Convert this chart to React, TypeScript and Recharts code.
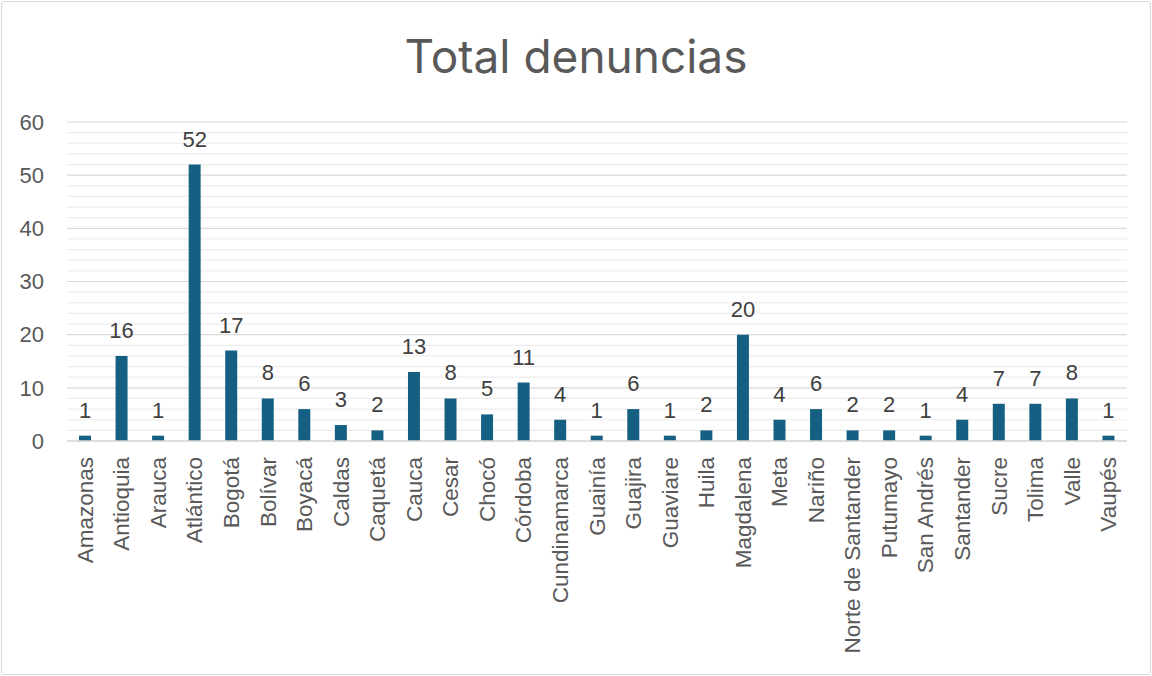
import React from "react";
import { BarChart, Bar, XAxis, YAxis, CartesianGrid, LabelList } from "recharts";

const categories = [
  "Amazonas", "Antioquia", "Arauca", "Atlántico", "Bogotá", "Bolívar", "Boyacá", "Caldas",
  "Caquetá", "Cauca", "Cesar", "Chocó", "Córdoba", "Cundinamarca", "Guainía", "Guajira",
  "Guaviare", "Huila", "Magdalena", "Meta", "Nariño", "Norte de Santander", "Putumayo",
  "San Andrés", "Santander", "Sucre", "Tolima", "Valle", "Vaupés",
];
const values = [1, 16, 1, 52, 17, 8, 6, 3, 2, 13, 8, 5, 11, 4, 1, 6, 1, 2, 20, 4, 6, 2, 2, 1, 4, 7, 7, 8, 1];
const majorTicks = [0, 10, 20, 30, 40, 50, 60];
const minorTicks = [2, 4, 6, 8, 12, 14, 16, 18, 22, 24, 26, 28, 32, 34, 36, 38, 42, 44, 46, 48, 52, 54, 56, 58];
const title = "Total denuncias";

const data = categories.map((name, i) => ({ name, value: values[i] }));

const FONT = "'Liberation Sans', Arial, sans-serif";

const CatTick = (props: any) => {
  const { x, y, payload } = props;
  return (
    <text
      x={x}
      y={y}
      transform={`rotate(-90, ${x}, ${y})`}
      textAnchor="end"
      dominantBaseline="central"
      fill="#595959"
      fontSize={22.5}
      fontFamily={FONT}
    >
      {payload.value}
    </text>
  );
};

export default function App() {
  return (
    <div style={{ position: "absolute", left: 0, top: 0, width: 1152, height: 676, background: "#fff" }}>
      <div
        style={{
          position: "absolute",
          left: 1,
          top: 1,
          width: 1148,
          height: 672,
          border: "1px solid #d9d9d9",
          borderRadius: 3,
        }}
      />
      <div
        style={{
          position: "absolute",
          left: 0,
          top: 27,
          width: 1152,
          textAlign: "center",
          fontFamily: "Inter, 'Open Sans', sans-serif",
          fontSize: 46,
          color: "#595959",
          lineHeight: "58px",
        }}
      >
        {title}
      </div>
      <div style={{ position: "absolute", left: 0, top: 0 }}>
        <BarChart
          width={1152}
          height={676}
          data={data}
          margin={{ top: 122, right: 25, bottom: 0, left: 0 }}
          barSize={12}
        >
          <CartesianGrid
            vertical={false}
            horizontalValues={minorTicks}
            stroke="#ececec"
            strokeWidth={1.2}
          />
          <CartesianGrid
            vertical={false}
            horizontalValues={majorTicks}
            stroke="#d9d9d9"
            strokeWidth={1.2}
          />
          <XAxis
            dataKey="name"
            interval={0}
            axisLine={{ stroke: "#d9d9d9", strokeWidth: 1.5 }}
            tickLine={false}
            tickSize={0}
            tickMargin={16}
            height={235}
            tick={<CatTick />}
          />
          <YAxis
            domain={[0, 60]}
            ticks={majorTicks}
            interval={0}
            width={67}
            axisLine={false}
            tickLine={false}
            tickSize={0}
            tickMargin={23}
            tick={{ fill: "#595959", fontSize: 22, fontFamily: FONT }}
          />
          <Bar dataKey="value" fill="#156082" isAnimationActive={false}>
            <LabelList
              dataKey="value"
              position="top"
              offset={18}
              fill="#404040"
              fontSize={22}
              fontFamily={FONT}
            />
          </Bar>
        </BarChart>
      </div>
    </div>
  );
}
